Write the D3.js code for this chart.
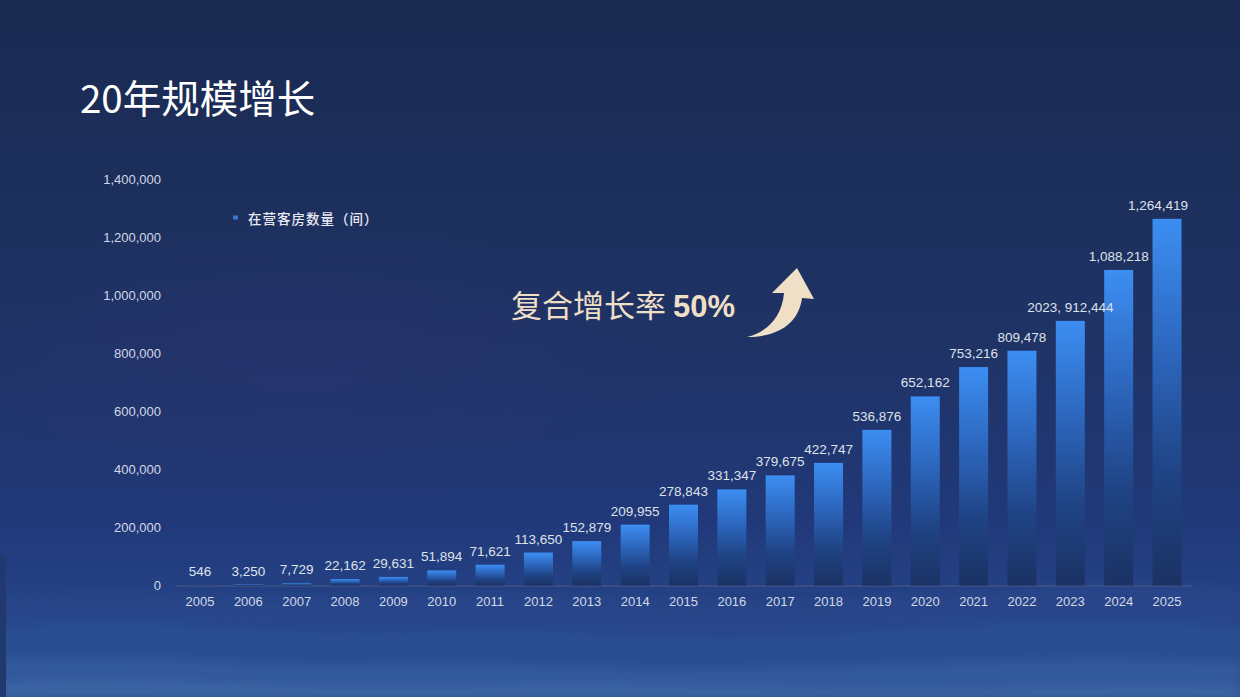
<!DOCTYPE html>
<html>
<head>
<meta charset="utf-8">
<script src="https://cdn.jsdelivr.net/npm/d3@7/dist/d3.min.js"></script>
<style>
  html, body { margin: 0; padding: 0; background: #1b2c56; }
  svg { display: block; }
</style>
</head>
<body>
<svg id="chart" width="1240" height="697"></svg>
<script>
// ---- data ----
const years = ["2005","2006","2007","2008","2009","2010","2011","2012","2013","2014","2015",
               "2016","2017","2018","2019","2020","2021","2022","2023","2024","2025"];
const rooms = [546, 3250, 7729, 22162, 29631, 51894, 71621, 113650, 152879, 209955, 278843,
               331347, 379675, 422747, 536876, 652162, 753216, 809478, 912444, 1088218, 1264419];
// label prefixes as printed in the original (one label carries the year in front)
const labelPrefix = ["","","","","","","","","","","","","","","","","","","2023, ","",""];
const yTicks = [0, 200000, 400000, 600000, 800000, 1000000, 1200000, 1400000];
const title = "20年规模增长";
const legendLabel = "在营客房数量（间）";
const cagrText = "复合增长率 ";
const cagrValue = "50%";

const W = 1240, H = 697;
const svg = d3.select("#chart");
const defs = svg.append("defs");
const latin = "'Liberation Sans', Arial, 'Noto Sans CJK SC', sans-serif";
const cjk = "'Noto Sans CJK SC', 'Liberation Sans', sans-serif";

// ---- background ----
const bg = defs.append("linearGradient").attr("id","bg").attr("x1",0).attr("y1",0).attr("x2",0).attr("y2",1);
[[0,"#1a2a51"],[0.25,"#1c2f5b"],[0.5,"#1f3366"],[0.75,"#21397a"],[0.88,"#254487"],[1,"#2d5592"]]
  .forEach(([o,c]) => bg.append("stop").attr("offset",o).attr("stop-color",c));
svg.append("rect").attr("width",W).attr("height",H).attr("fill","url(#bg)");

const blur = defs.append("filter").attr("id","blur").attr("x","-10%").attr("y","-50%").attr("width","120%").attr("height","200%");
blur.append("feGaussianBlur").attr("stdDeviation",5);

// soft purple haze in the middle
const haze = defs.append("radialGradient").attr("id","haze");
haze.append("stop").attr("offset",0).attr("stop-color","#2a3470").attr("stop-opacity",0.55);
haze.append("stop").attr("offset",1).attr("stop-color","#2a3470").attr("stop-opacity",0);
svg.append("ellipse").attr("cx",300).attr("cy",360).attr("rx",380).attr("ry",140).attr("fill","url(#haze)");

// mountain ridges (decorative background)
const ridges = [
  {d:"M0,600 C120,585 260,605 400,598 C560,590 700,612 860,600 C1000,590 1120,575 1240,590 L1240,697 L0,697 Z", c:"#27478a", o:0.7},
  {d:"M0,628 C150,612 280,640 420,632 C560,624 650,645 800,636 C960,626 1080,615 1240,628 L1240,697 L0,697 Z", c:"#2c5193", o:0.75},
  {d:"M0,660 C120,650 240,668 380,664 C520,660 600,672 760,668 C920,664 1060,655 1240,662 L1240,697 L0,697 Z", c:"#355d9d", o:0.8},
  {d:"M0,684 C160,678 300,690 480,686 C660,682 820,692 1000,688 C1100,686 1180,684 1240,688 L1240,697 L0,697 Z", c:"#4168a6", o:0.8}
];
svg.append("g").attr("filter","url(#blur)").selectAll("path").data(ridges).join("path")
  .attr("d", d => d.d).attr("fill", d => d.c).attr("opacity", d => d.o);
svg.append("rect").attr("x",0).attr("y",556).attr("width",6).attr("height",H-556).attr("fill","#203a70");

// ---- scales ----
const x = d3.scaleBand().domain(years).range([175.8, 1191.2]).paddingInner(0.4).paddingOuter(0.2);
const y = d3.scaleLinear().domain([0, 1400000]).range([585.5, 179.5]);

// bar gradient
const bg2 = defs.append("linearGradient").attr("id","bar").attr("x1",0).attr("y1",0).attr("x2",0).attr("y2",1);
[[0,"#3c8ef2"],[0.35,"#2d68c0"],[0.7,"#1f4384"],[1,"#1b3264"]]
  .forEach(([o,c]) => bg2.append("stop").attr("offset",o).attr("stop-color",c));

// ---- title ----
svg.append("text").attr("x",80).attr("y",113).attr("fill","#ffffff")
  .attr("font-family",cjk).attr("font-size",38.5).text(title);

// ---- y axis labels ----
const yAxis = d3.axisLeft(y).tickValues(yTicks).tickFormat(d3.format(",")).tickSize(0).tickPadding(0);
const gy = svg.append("g").attr("transform","translate(161,0)").call(yAxis);
gy.select(".domain").remove();
gy.selectAll("text").attr("fill","#d3d8e6").attr("font-family",latin).attr("font-size",13);

// ---- x axis ----
const xAxis = d3.axisBottom(x).tickSize(0).tickPadding(11);
const gx = svg.append("g").attr("transform",`translate(0,${y(0)})`).call(xAxis);
gx.select(".domain").attr("stroke","#4a5b85").attr("stroke-width",1);
gx.selectAll("text").attr("fill","#d3d8e6").attr("font-family",latin).attr("font-size",13);

// ---- bars ----
const data = years.map((yr,i) => ({yr, v: rooms[i], p: labelPrefix[i]}));
svg.append("g").selectAll("rect").data(data).join("rect")
  .attr("x", d => x(d.yr)).attr("width", x.bandwidth())
  .attr("y", d => y(d.v)).attr("height", d => y(0) - y(d.v))
  .attr("fill","url(#bar)");

// value labels; kept inside the plot's right edge like the original
const labelMaxRight = 1188;
svg.append("g").selectAll("text").data(data).join("text")
  .attr("x", d => x(d.yr) + x.bandwidth()/2).attr("y", d => y(d.v) - 9)
  .attr("text-anchor","middle").attr("fill","#dfe2ea")
  .attr("font-family",latin).attr("font-size",13.5)
  .text(d => d.p + d3.format(",")(d.v))
  .each(function() {
    const b = this.getBBox();
    const over = b.x + b.width - labelMaxRight;
    if (over > 0) d3.select(this).attr("x", +d3.select(this).attr("x") - over);
  });

// ---- legend ----
svg.append("rect").attr("x",233).attr("y",215.5).attr("width",5).attr("height",4).attr("fill","#3a78d0");
svg.append("text").attr("x",248).attr("y",219).attr("dy","0.35em").attr("fill","#e8ebf2")
  .attr("font-family",cjk).attr("font-weight",500).attr("font-size",13.5)
  .attr("letter-spacing",1).text(legendLabel);

// ---- CAGR annotation ----
const ann = svg.append("text").attr("x",511).attr("y",317).attr("fill","#efdfc6").attr("font-size",31);
ann.append("tspan").attr("font-family",cjk).text(cagrText);
ann.append("tspan").attr("font-family",latin).attr("font-weight","bold").text(cagrValue);

svg.append("path")
  .attr("d","M747,337 C768,332 782,316 784,293 L772,293 L797,268 L814,299 L802,298 C799,322 780,337 747,337 Z")
  .attr("fill","#efdfc6");
</script>
</body>
</html>
